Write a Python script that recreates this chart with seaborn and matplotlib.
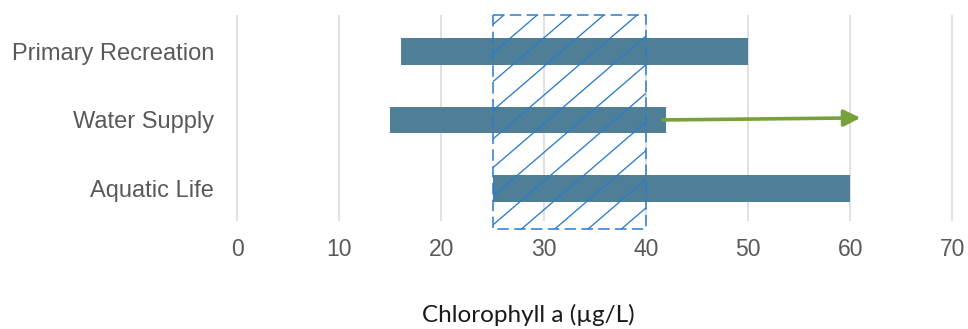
import numpy as np
import pandas as pd
import matplotlib
matplotlib.use("Agg")
import matplotlib.pyplot as plt
from matplotlib.patches import Rectangle
from matplotlib.lines import Line2D
from matplotlib.transforms import IdentityTransform
import seaborn as sns

# ---- data ----
categories = ["Primary Recreation", "Water Supply", "Aquatic Life"]
range_low = [16, 15, 25]
range_high = [50, 42, 60]
overlap_low = 25
overlap_high = 40
arrow_category = "Water Supply"
arrow_start = 42
arrow_end = 61
x_ticks = [0, 10, 20, 30, 40, 50, 60, 70]
x_label = "Chlorophyll a (µg/L)"

# ---- style ----
sns.set_style("white")
plt.rcParams["font.family"] = ["Liberation Sans", "DejaVu Sans"]

BAR = "#4f7f96"
HATCH = "#2b7bcf"
GREEN = "#77a23b"
GRID = "#d9d9d9"
TXT = "#595959"

W, H = 968, 329
fig = plt.figure(figsize=(W / 100, H / 100), dpi=100)
fig.patch.set_facecolor("white")
ax = fig.add_axes([235.5 / W, 1 - 221 / H, 718.5 / W, 206 / H])

df = pd.DataFrame({"category": categories, "low": range_low, "high": range_high})
sns.barplot(data=df, x="high", y="category", orient="h", color=BAR,
            saturation=1, width=0.39, linewidth=0, errorbar=None, ax=ax, zorder=2)
for patch, lo, hi in zip(ax.patches, range_low, range_high):
    patch.set_x(lo)
    patch.set_width(hi - lo)

ax.set_xlim(-0.15, 70.15)
y_top, y_bottom = -0.537, 2.48
ax.set_ylim(y_bottom, y_top)
ax.set_xticks(x_ticks)
ax.grid(axis="x", color=GRID, lw=1.1)
ax.grid(axis="y", visible=False)
ax.set_axisbelow(True)
for s in ax.spines.values():
    s.set_visible(False)
ax.tick_params(axis="x", length=0, labelsize=16.5, labelcolor=TXT, pad=12)
ax.tick_params(axis="y", length=0, labelsize=17, labelcolor=TXT, pad=15.5)
ax.set_xlabel("")
ax.set_ylabel("")

# ---- overlap box (dashed border + diagonal hatch) ----
box_bottom = 2.6
rect = Rectangle((overlap_low, y_top), overlap_high - overlap_low, box_bottom - y_top,
                 fill=False, edgecolor=HATCH, lw=1.1, ls=(0, (7.5, 3.5)),
                 clip_on=False, zorder=4)
ax.add_patch(rect)

x0d, y0d = ax.transData.transform((overlap_low, box_bottom))
x1d, y1d = ax.transData.transform((overlap_high, y_top))
spacing, slope, phase = 33.3, 0.86, 11.4
bh = y1d - y0d
bw = x1d - x0d
kmax = int(np.ceil((bw + bh / slope) / spacing)) + 1
for k in range(-1, kmax + 1):
    xk = x0d + phase + k * spacing
    xs = np.array([xk - bh / slope - 5, xk + 5])
    ys = y1d + slope * (xs - xk)
    ln = Line2D(xs, ys, transform=IdentityTransform(), color=HATCH, lw=0.95, zorder=5)
    ln.set_clip_path(rect)
    fig.add_artist(ln)

# ---- arrow ----
yi = categories.index(arrow_category)
ax.annotate("", xy=(arrow_end, yi - 0.03), xytext=(arrow_start - 0.3, yi),
            arrowprops=dict(arrowstyle="-|>,head_length=0.5,head_width=0.25",
                            color=GREEN, lw=2.6, mutation_scale=20,
                            shrinkA=0, shrinkB=0),
            annotation_clip=False, zorder=6)

# ---- x label ----
fig.text(528 / W, 1 - 322 / H, x_label, ha="center", va="baseline",
         fontsize=17.5, color="#1a1a1a", family=["Lato", "DejaVu Sans"])

fig.savefig("out.png", dpi=100)
